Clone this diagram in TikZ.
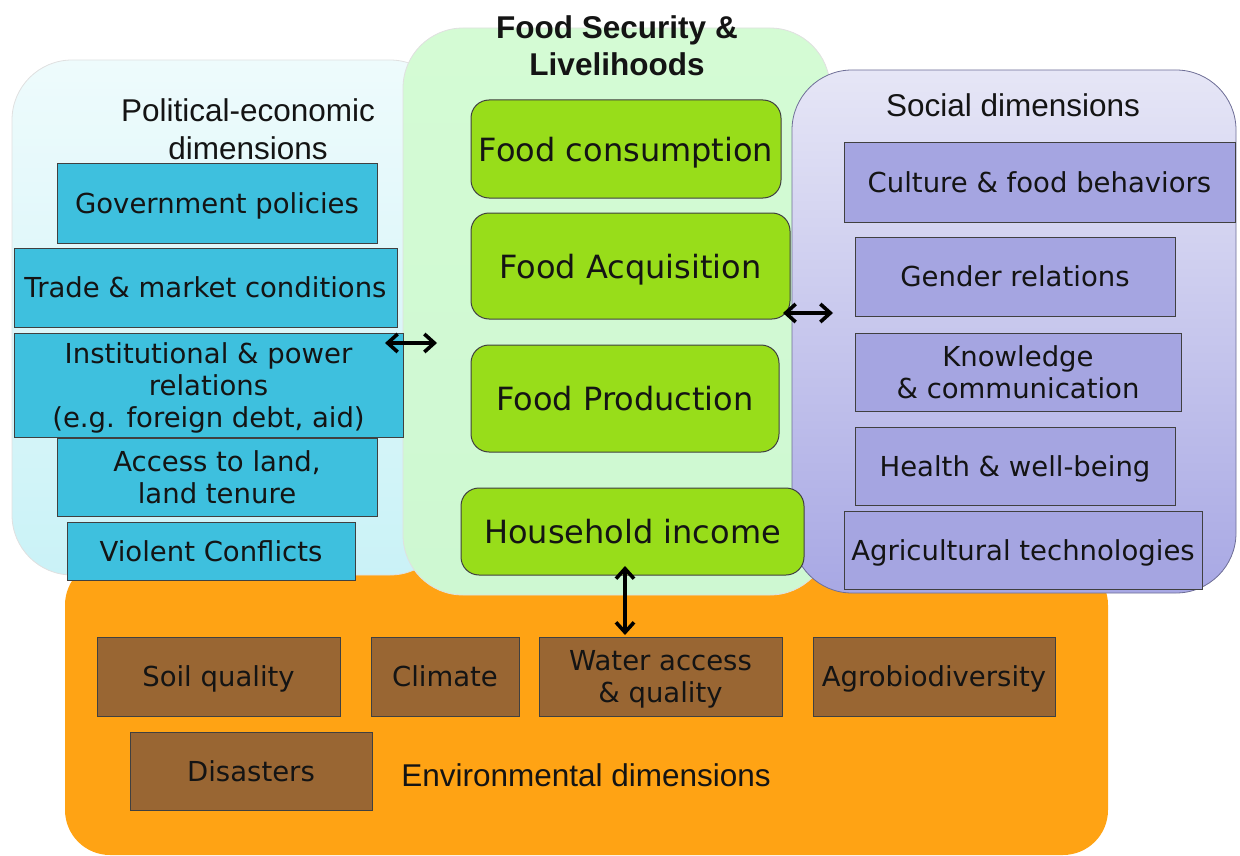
\documentclass[tikz,border=0pt]{standalone}
\usepackage{fontspec}
\setmainfont{DejaVu Sans}
\newfontfamily\arialfont{Liberation Sans}
\usetikzlibrary{arrows.meta}
\definecolor{polblue}{RGB}{62,192,222}
\definecolor{fsgreen}{RGB}{152,221,26}
\definecolor{soclilac}{RGB}{165,165,225}
\definecolor{envbrown}{RGB}{153,102,51}
\definecolor{envorange}{RGB}{255,163,20}
\definecolor{txtdark}{RGB}{20,20,20}
\tikzstyle{dimbox}=[rectangle, draw=black!75, line width=1pt, inner sep=0pt, align=center, text depth=0pt, text=txtdark, font=\fontsize{27.5}{32}\selectfont]
\tikzstyle{polbox}=[dimbox, fill=polblue]
\tikzstyle{socbox}=[dimbox, fill=soclilac]
\tikzstyle{envbox}=[dimbox, fill=envbrown]
\tikzstyle{fsbox}=[dimbox, fill=fsgreen, rounded corners=18pt, font=\fontsize{32}{36}\selectfont]
\tikzstyle{dimtitle}=[align=center, text=txtdark, font=\arialfont\fontsize{31.5}{38}\selectfont]
\tikzstyle{panel}=[rounded corners=60pt, line width=0.8pt]
\tikzstyle{dblarrow}=[draw, line width=3.6pt, {Straight Barb[length=10pt,width=18pt]}-{Straight Barb[length=10pt,width=18pt]}]
\newcommand{\polbox}{\node[polbox]}
\newcommand{\socbox}{\node[socbox]}
\newcommand{\envbox}{\node[envbox]}
\newcommand{\fsbox}{\node[fsbox]}

\begin{document}
\begin{tikzpicture}[x=1pt, y=-1pt]
	\useasboundingbox (0,0) rectangle (1240,856);
	\fill[envorange, rounded corners=45pt] (65,560) rectangle (1108,855);
	\shade[panel, draw=black!12, top color={rgb,255:red,238;green,251;blue,252}, bottom color={rgb,255:red,202;green,242;blue,247}] (12,60) rectangle (450,575);
	\shade[panel, draw=black!12, top color={rgb,255:red,212;green,251;blue,212}, bottom color={rgb,255:red,206;green,248;blue,210}] (403,28) rectangle (830,595);
	\shade[panel, draw={rgb,255:red,110;green,110;blue,150}, top color={rgb,255:red,230;green,230;blue,246}, bottom color={rgb,255:red,168;green,168;blue,228}] (792,70) rectangle (1236,593);

	\node (poltitle) at (248,129) [dimtitle]{Political-economic\\dimensions};
	\node (fstitle) at (617,46) [dimtitle, font=\arialfont\bfseries\fontsize{31.5}{37}\selectfont]{Food Security \&\\Livelihoods};
	\node (soctitle) at (1013,105) [dimtitle]{Social dimensions};
	\node (envtitle) at (586,775) [dimtitle]{Environmental dimensions};

	\polbox (gov) at (217,203.5) [minimum width=320, minimum height=79]{Government policies};
	\polbox (trade) at (205.5,287.5) [minimum width=383, minimum height=79]{Trade \& market conditions};
	\polbox (inst) at (208.5,385) [minimum width=389, minimum height=104]{Institutional \& power\\relations\\(e.g. foreign debt, aid)};
	\polbox (land) at (217,477) [minimum width=320, minimum height=78]{Access to land,\\land tenure};
	\polbox (conf) at (211,551) [minimum width=288, minimum height=58]{Violent Conflicts};

	\fsbox (cons) at (626,149) [minimum width=310, minimum height=98]{Food consumption};
	\fsbox (acq) at (630.5,266) [minimum width=319, minimum height=106]{Food Acquisition};
	\fsbox (prod) at (625,398.5) [minimum width=308, minimum height=107]{Food Production};
	\fsbox (inc) at (632.5,531.5) [minimum width=343, minimum height=87]{Household income};

	\socbox (cult) at (1039.5,182.5) [minimum width=391, minimum height=79]{Culture \& food behaviors};
	\socbox (gend) at (1015,276.5) [minimum width=320, minimum height=79]{Gender relations};
	\socbox (know) at (1018,372) [minimum width=326, minimum height=78]{Knowledge\\\& communication};
	\socbox (health) at (1015,466) [minimum width=320, minimum height=78]{Health \& well-being};
	\socbox (agri) at (1023,550) [minimum width=358, minimum height=78]{Agricultural technologies};

	\envbox (soil) at (218.5,676.5) [minimum width=243, minimum height=79]{Soil quality};
	\envbox (clim) at (445,676.5) [minimum width=148, minimum height=79]{Climate};
	\envbox (water) at (660.5,676.5) [minimum width=243, minimum height=79]{Water access\\\& quality};
	\envbox (agro) at (934,676.5) [minimum width=242, minimum height=79]{Agrobiodiversity};
	\envbox (disas) at (251,771) [minimum width=242, minimum height=78]{Disasters};

	\coordinate (instarr) at (385,343);
	\coordinate (fsleft) at (437,343);
	\coordinate (acqarr) at (783,313);
	\coordinate (socleft) at (833,313);
	\coordinate (incarr) at (625,566);
	\coordinate (envtop) at (625,635);
	\path
	(instarr) edge[dblarrow] (fsleft)
	(acqarr) edge[dblarrow] (socleft)
	(incarr) edge[dblarrow] (envtop)
	;
\end{tikzpicture}
\end{document}
